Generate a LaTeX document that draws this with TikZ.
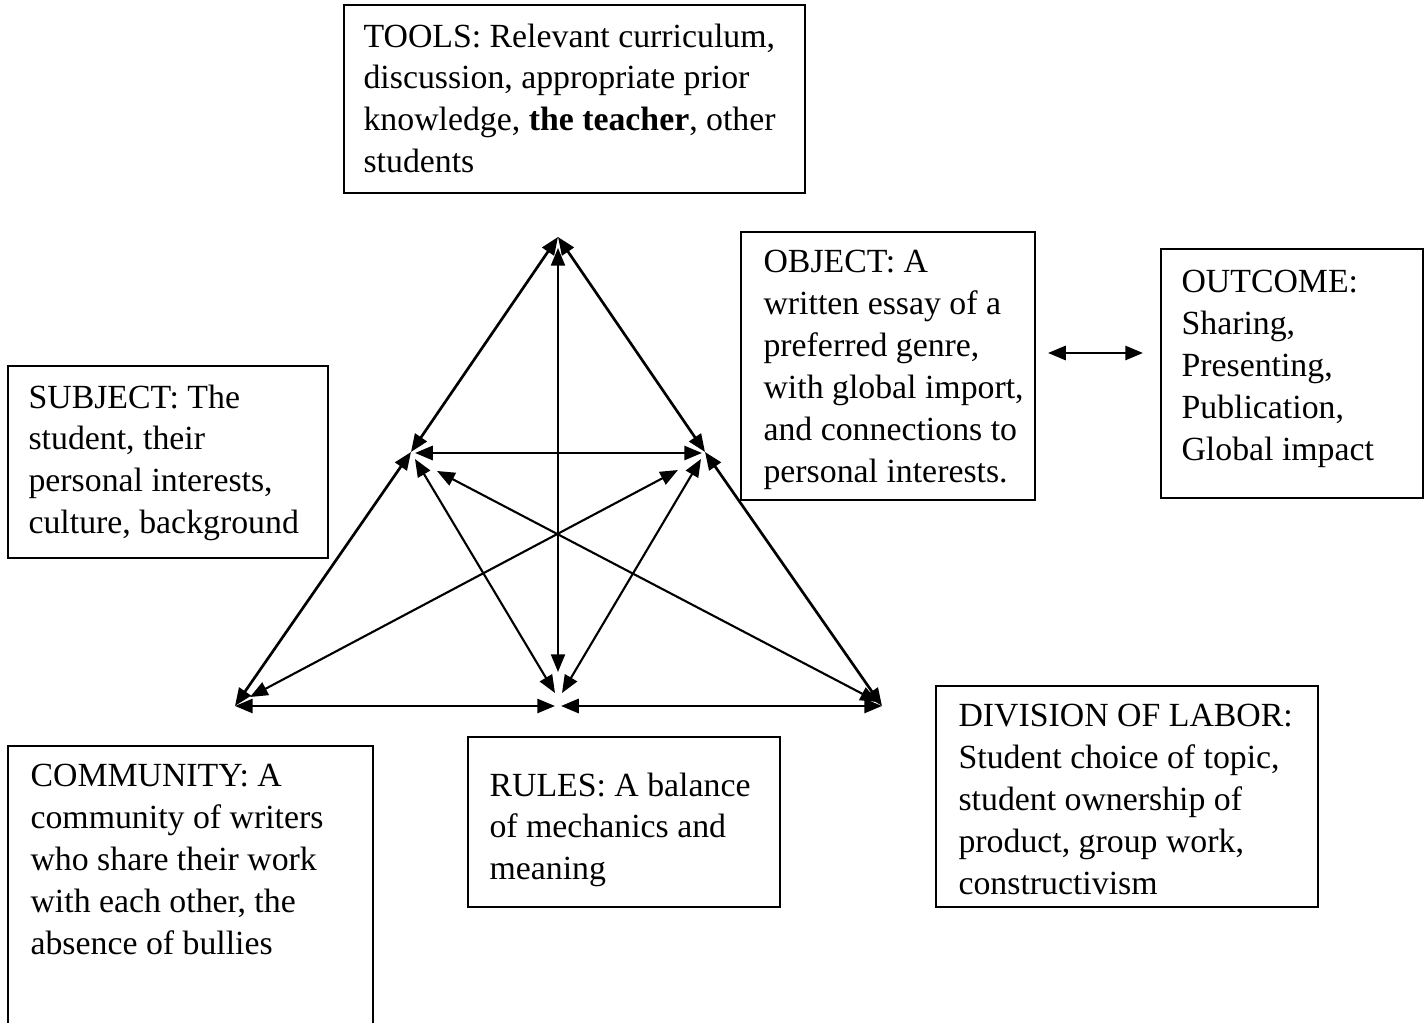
\documentclass[tikz,border=0pt]{standalone}
\usepackage{fontspec}
\setmainfont{Liberation Serif}
\usetikzlibrary{arrows.meta}
\begin{document}
\begin{tikzpicture}[x=0.355pt,y=-0.355pt,
  boxst/.style={draw,line width=0.7pt},
  txt/.style={anchor=north west,inner sep=0pt,align=left,font=\fontsize{12}{14.9}\selectfont},
  edge/.style={line width=0.95pt,{Triangle[length=6.3pt,width=5pt]}-{Triangle[length=6.3pt,width=5pt]}},
  inner/.style={line width=0.75pt,{Triangle[length=6.3pt,width=5pt]}-{Triangle[length=6.3pt,width=5pt]}}]
\useasboundingbox[fill=white] (0,0) rectangle (1428,1023);
\begin{scope}
\clip (0,0) rectangle (1428,1023);
% boxes
\draw[boxst] (344,5) rectangle (805,193);
\node[txt] (tools) at (363,23) {TOOLS: Relevant curriculum,\\discussion, appropriate prior\\knowledge, \textbf{the teacher}, other\\students};
\draw[boxst] (741,232) rectangle (1035,500);
\node[txt] (obj) at (763,250) {OBJECT: A\\written essay of a\\preferred genre,\\with global import,\\and connections to\\personal interests.};
\draw[boxst] (1161,249) rectangle (1423,498);
\node[txt] (out) at (1181,270) {OUTCOME:\\Sharing,\\Presenting,\\Publication,\\Global impact};
\draw[boxst] (8,366) rectangle (328,558);
\node[txt] (subj) at (28,384) {SUBJECT: The\\student, their\\personal interests,\\culture, background};
\draw[boxst] (8,746) rectangle (373,1040);
\node[txt] (comm) at (30,764) {COMMUNITY: A\\community of writers\\who share their work\\with each other, the\\absence of bullies};
\draw[boxst] (468,737) rectangle (780,907);
\node[txt] (rules) at (489,772) {RULES: A balance\\of mechanics and\\meaning};
\draw[boxst] (936,686) rectangle (1318,907);
\node[txt] (div) at (958,704) {DIVISION OF LABOR:\\Student choice of topic,\\student ownership of\\product, group work,\\constructivism};
\end{scope}
% triangle vertices
\coordinate (T) at (558,237);
\coordinate (ML) at (411,452);
\coordinate (MR) at (705,452);
\coordinate (BL) at (235,706);
\coordinate (BM) at (558,706);
\coordinate (BR) at (882,706);
% helper end points
\coordinate (mlh) at (415,453);
\coordinate (mrh) at (702,453);
\coordinate (bml) at (555,706);
\coordinate (bmr) at (561,706);
\coordinate (vt) at (558,248);
\coordinate (vb) at (558,672);
\coordinate (ml2) at (415,459);
\coordinate (bm2) at (555,693);
\coordinate (mr2) at (701,459);
\coordinate (bm3) at (562,693);
\coordinate (bl2) at (250,697);
\coordinate (mr3) at (678,470);
\coordinate (br2) at (878,702);
\coordinate (ml3) at (437,471);
\coordinate (oa) at (1048,353);
\coordinate (ob) at (1143,353);
% connectors
\draw[edge] (T) -- (ML);
\draw[edge] (ML) -- (BL);
\draw[edge] (T) -- (MR);
\draw[edge] (MR) -- (BR);
\draw[edge] (mlh) -- (mrh);
\draw[edge] (BL) -- (bml);
\draw[edge] (bmr) -- (BR);
\draw[inner] (vt) -- (vb);
\draw[inner] (ml2) -- (bm2);
\draw[inner] (mr2) -- (bm3);
\draw[inner] (bl2) -- (mr3);
\draw[inner] (br2) -- (ml3);
\draw[edge] (oa) -- (ob);
\end{tikzpicture}
\end{document}
